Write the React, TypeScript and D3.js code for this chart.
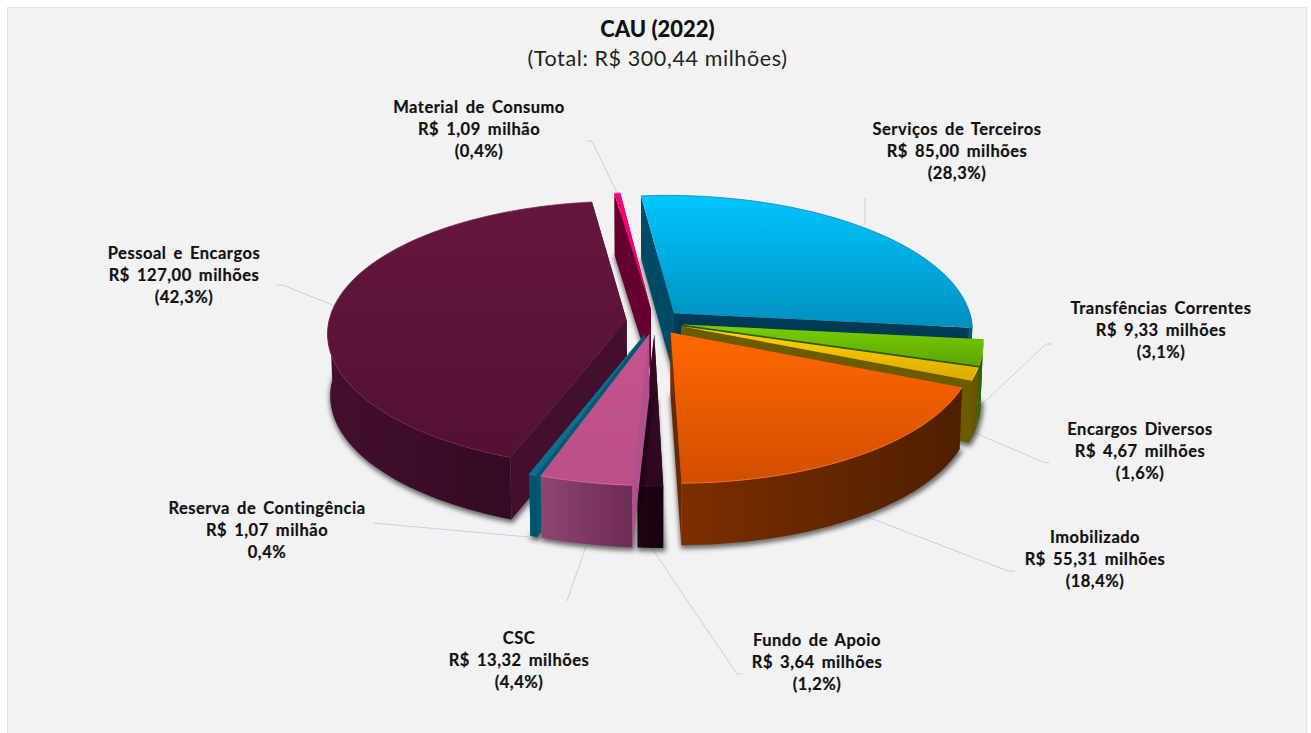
import React from "react";
import * as d3 from "d3";

// ---- data
const categories = ["Serviços de Terceiros","Transfências Correntes","Encargos Diversos","Imobilizado","Fundo de Apoio","CSC","Reserva de Contingência","Pessoal e Encargos","Material de Consumo"];
const values = [85.0, 9.33, 4.67, 55.31, 3.64, 13.32, 1.07, 127.0, 1.09];
const moneyLabels = ["R$ 85,00 milhões","R$ 9,33 milhões","R$ 4,67 milhões","R$ 55,31 milhões","R$ 3,64 milhões","R$ 13,32 milhões","R$ 1,07 milhão","R$ 127,00 milhões","R$ 1,09 milhão"];
const shareLabels = ["(28,3%)","(3,1%)","(1,6%)","(18,4%)","(1,2%)","(4,4%)","0,4%","(42,3%)","(0,4%)"];
const titleLines = ["CAU (2022)", "(Total: R$ 300,44 milhões)"];

// ---- styles: topFrom, topTo, wallFrom, wallTo, cutStart, cutEnd, rim
const sliceStyles = [
  ["#00c6ff","#008fbe","#006f94","#00587a","#004a66","#003a54","#0a7fa6"],
  ["#78d000","#5da400","#3f7000","#2c5200","#2f5c00","#1f4a00","#8cd820"],
  ["#ffd400","#dcaa00","#6b5c00","#625300","#6b5c00","#6b5c00","#ffdf40"],
  ["#ff6800","#d24e00","#7d2e00","#4e1f00","#7a2e00","#6a2800","#ff7f20"],
  ["#360b26","#2c0820","#210412","#180310","#30091f","#30091f","#40102c"],
  ["#c5548e","#bc4f88","#8f4570","#6c2c54","#b0508c","#9a4078","#e070a8"],
  ["#0f7391","#0f6c8a","#005a72","#004f66","#005a72","#005a72","#2a8aa8"],
  ["#65163f","#541133","#430f2f","#350a22","#42102e","#42102e","#7a2a55"],
  ["#ff0078","#f0006c","#7a0040","#6a0036","#66002f","#66002f","#ff3090"],
];

// ---- annotation layout
const labelLayout = [[957,129],[1161,308],[1140,429],[1095,537],[817,640],[519,638],[267,508],[184,253],[479,107]];
const leaderLines = [
  [[865,225],[865,198]],
  [[1052,344],[1046,344],[977,409]],
  [[1049,463],[1043,462],[973,432]],
  [[1015,571],[1008,571],[865,516]],
  [[743,674],[737,674],[651,547]],
  [[567,601],[586,546]],
  [[373,523],[528,537]],
  [[276,285],[283,285],[335,306]],
  [[587,141],[592,141],[618,195]],
];

// ---- projection of the tilted disc
const CX = 654.5, CY = 322, R = 298, K = 0.444, P = 0.107, DEPTH = 62, TAPER = 0.008, EXPLODE = 28, SHEAR = 5;
const START = (-5.6 * Math.PI) / 180;

function project(u: number, v: number, z: number): [number, number] {
  const s = 1 / (1 - (P * v) / R);
  const x = CX + (u * s + (SHEAR * v) / R) * (1 - TAPER * z);
  const y = CY + K * v * s + DEPTH * z;
  return [x, y];
}

const pieGen = d3.pie<number>().sort(null).startAngle(START).endAngle(START + Math.PI * 2);
const arcs = pieGen(values);
const line = d3.line();

type Pt = [number, number];
function geometry(a0: number, a1: number) {
  const mid = (a0 + a1) / 2;
  const ox = EXPLODE * Math.sin(mid), oy = -EXPLODE * Math.cos(mid);
  const n = Math.max(3, Math.ceil((a1 - a0) / 0.03));
  const angles = d3.range(n + 1).map((i) => a0 + ((a1 - a0) * i) / n);
  const at = (a: number, z: number): Pt => project(ox + R * Math.sin(a), oy - R * Math.cos(a), z);
  const rim = (z: number): Pt[] => angles.map((a) => at(a, z));
  // only the part of the outer wall that faces the viewer
  const front = angles.filter((a) => Math.cos(a) < 0.03);
  const wallTop = front.map((a) => at(a, 0));
  const wallBot = front.map((a) => at(a, 1));
  const apex = (z: number): Pt => project(ox, oy, z);
  return { rim, apex, wallTop, wallBot };
}

// painter's order, back to front
const paintOrder = [7, 8, 0, 1, 2, 3, 6, 4, 5];

export default function App() {
  return (
    <svg width={1311} height={733} style={{ position: "absolute", left: 0, top: 0, display: "block" }}>
      <defs>
        <filter id="soft" x="-20%" y="-20%" width="140%" height="140%">
          <feGaussianBlur stdDeviation="2.6" />
        </filter>
        {sliceStyles.map((st, i) => (
          <React.Fragment key={i}>
            <linearGradient id={`top${i}`} x1="0" y1="0" x2="0" y2="1">
              <stop offset="0" stopColor={st[0]} />
              <stop offset="1" stopColor={st[1]} />
            </linearGradient>
            <linearGradient id={`wall${i}`} x1="0" y1="0" x2="1" y2="0">
              <stop offset="0" stopColor={st[2]} />
              <stop offset="1" stopColor={st[3]} />
            </linearGradient>
          </React.Fragment>
        ))}
      </defs>
      <rect x={7.5} y={7.5} width={1299} height={730} fill="#f2f2f2" stroke="#e2e2e2" strokeWidth={1} />

      <g fontFamily="Lato, sans-serif" textAnchor="middle" fill="#111">
        <text x={657.5} y={36.5} fontSize={22} fontWeight={900}>{titleLines[0]}</text>
        <text x={657.5} y={65.5} fontSize={21.5} fontWeight={400} fill="#222" letterSpacing={0.6}>{titleLines[1]}</text>
      </g>

      <g fill="none" stroke="#c6d0e0" strokeWidth={1}>
        {leaderLines.map((l, i) => <path key={i} d={line(l as Pt[]) as string} />)}
      </g>

      {paintOrder.map((i) => {
        const a = arcs[i];
        const g = geometry(a.startAngle, a.endAngle);
        const st = sliceStyles[i];
        const rimTop = g.rim(0), rimBot = g.rim(1);
        const apexTop = g.apex(0), apexBot = g.apex(1);
        const first = rimTop[0], last = rimTop[rimTop.length - 1];
        const firstB = rimBot[0], lastB = rimBot[rimBot.length - 1];
        const close = (pts: Pt[]) => (line(pts) as string) + "Z";
        return (
          <g key={i}>
            <path d={close([apexBot, ...rimBot])} fill="#000" fillOpacity={0.5} stroke="#000" strokeOpacity={0.5} strokeWidth={3} filter="url(#soft)" transform="translate(1,2)" />
            <path d={close([apexTop, last, lastB, apexBot])} fill={st[5]} />
            <path d={close([apexTop, first, firstB, apexBot])} fill={st[4]} />
            {g.wallTop.length > 1 && (
              <path d={close([...g.wallTop, ...g.wallBot.slice().reverse()])} fill={`url(#wall${i})`} />
            )}
            <path d={close([apexTop, ...rimTop])} fill={`url(#top${i})`} />
            <path d={line(rimTop) as string} fill="none" stroke={st[6]} strokeWidth={1} strokeOpacity={0.75} />
          </g>
        );
      })}

      <g fontFamily="Lato, sans-serif" fontWeight={700} fontSize={16.5} letterSpacing={0.5} wordSpacing={2.6} textAnchor="middle" fill="#111" stroke="#111" strokeWidth={0.2}>
        {categories.map((c, i) => {
          const [x, y] = labelLayout[i];
          return (
            <text key={i}>
              <tspan x={x} y={y + 5.5}>{c}</tspan>
              <tspan x={x} y={y + 27.5}>{moneyLabels[i]}</tspan>
              <tspan x={x} y={y + 50}>{shareLabels[i]}</tspan>
            </text>
          );
        })}
      </g>
    </svg>
  );
}
